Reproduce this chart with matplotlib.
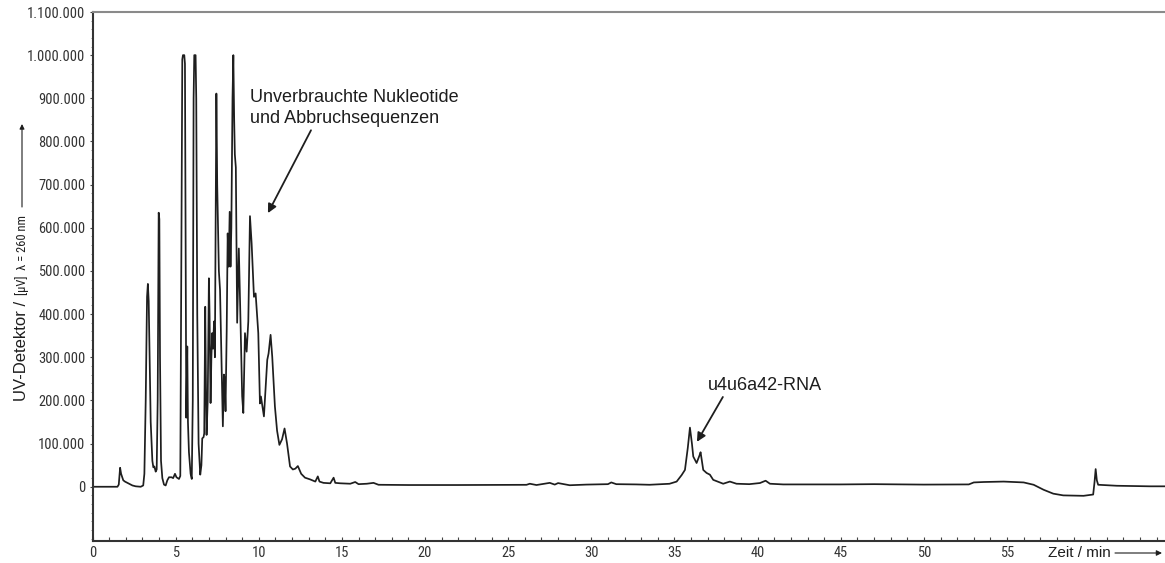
import matplotlib
matplotlib.use("Agg")
import matplotlib.pyplot as plt
from matplotlib import font_manager
from matplotlib.font_manager import FontProperties
from matplotlib.textpath import TextPath
from matplotlib.ticker import MultipleLocator, FixedLocator, FuncFormatter
import matplotlib.patches as mpatches

# ---- data (retention time in min, detector signal in µV) ----
time_min = [0.0, 1.5, 1.58, 1.66, 1.72, 1.85, 1.95, 2.1, 2.4, 2.6, 2.9, 3.05, 3.12, 3.2, 3.28, 3.33,
            3.38, 3.5, 3.6, 3.66, 3.72, 3.8, 3.86, 3.92, 3.98, 4.02, 4.06, 4.12, 4.2, 4.3, 4.4, 4.5,
            4.6, 4.75, 4.85, 4.96, 5.05, 5.2, 5.28, 5.35, 5.4, 5.44, 5.52, 5.56, 5.6, 5.64, 5.7,
            5.74, 5.8, 5.9, 5.97, 6.03, 6.08, 6.12, 6.2, 6.24, 6.3, 6.38, 6.48, 6.55, 6.6, 6.68,
            6.72, 6.78, 6.82, 6.86, 6.93, 7.0, 7.04, 7.1, 7.15, 7.2, 7.25, 7.31, 7.36, 7.45, 7.5,
            7.6, 7.67, 7.77, 7.84, 7.9, 7.95, 8.0, 8.07, 8.13, 8.19, 8.25, 8.3, 8.35, 8.42, 8.47,
            8.52, 8.56, 8.62, 8.7, 8.8, 8.88, 9.0, 9.07, 9.17, 9.27, 9.37, 9.47, 9.57, 9.71, 9.81,
            9.97, 10.07, 10.13, 10.31, 10.51, 10.59, 10.71, 10.81, 10.97, 11.1, 11.24, 11.4, 11.55,
            11.7, 11.88, 12.05, 12.2, 12.35, 12.55, 12.78, 13.09, 13.4, 13.55, 13.65, 13.89, 14.3,
            14.5, 14.6, 14.9, 15.5, 15.8, 16.0, 16.5, 16.9, 17.2, 19.0, 22.0, 26.1, 26.3, 26.7,
            27.5, 27.8, 28.0, 28.7, 29.7, 31.0, 31.2, 31.5, 32.7, 33.5, 34.7, 35.13, 35.43, 35.63,
            35.8, 35.93, 36.05, 36.13, 36.33, 36.5, 36.57, 36.73, 36.93, 37.13, 37.33, 37.93,
            38.33, 38.73, 39.5, 40.14, 40.48, 40.74, 41.54, 45.0, 47.0, 50.0, 52.7, 53.0, 53.6,
            54.8, 56.0, 56.6, 57.2, 57.78, 58.38, 59.6, 60.18, 60.26, 60.33, 60.4, 60.48, 61.6,
            63.6, 64.5]
signal_uv = [0, 0, 5000, 44000, 30000, 15000, 12000, 9000, 3000, 1000, 0, 3000, 30000, 200000,
             440000, 470000, 430000, 150000, 60000, 45000, 47000, 35000, 40000, 200000, 635000,
             620000, 300000, 60000, 20000, 5000, 3000, 15000, 22000, 22000, 20000, 30000, 22000,
             18000, 25000, 600000, 990000, 1000000, 1000000, 980000, 600000, 160000, 325000,
             150000, 80000, 30000, 18000, 200000, 900000, 1000000, 1000000, 900000, 400000,
             100000, 28000, 50000, 112000, 115000, 124000, 417000, 250000, 120000, 200000,
             483000, 400000, 194000, 300000, 356000, 320000, 383000, 300000, 911000, 700000,
             500000, 456000, 263000, 140000, 260000, 250000, 175000, 360000, 587000, 510000,
             637000, 510000, 600000, 900000, 1000000, 850000, 770000, 740000, 380000, 552000,
             420000, 210000, 171000, 356000, 313000, 383000, 627000, 564000, 440000, 448000,
             356000, 193000, 209000, 163000, 294000, 309000, 352000, 301000, 186000, 130000,
             97000, 110000, 135000, 100000, 47000, 40000, 42000, 48000, 30000, 21000, 17000,
             12000, 24000, 12000, 9000, 8000, 21000, 9000, 8000, 7000, 11000, 6000, 7000, 9000,
             4600, 4000, 4000, 4500, 7000, 4000, 9000, 5000, 8500, 3500, 5000, 6000, 10000, 6000,
             5400, 4600, 6900, 12000, 27000, 39000, 90000, 137000, 100000, 70000, 55000, 72000,
             80000, 39000, 32000, 28000, 16000, 7000, 12000, 7000, 6000, 8600, 14000, 7000, 5400,
             5400, 6000, 5000, 5400, 10000, 11000, 12000, 10000, 4600, -7000, -16000, -20000,
             -21000, -18000, 10000, 41000, 15000, 4600, 2300, 1000, 1000]

x_tick_values = [0, 5, 10, 15, 20, 25, 30, 35, 40, 45, 50, 55]
y_tick_values = [0, 100000, 200000, 300000, 400000, 500000, 600000, 700000, 800000, 900000,
                 1000000, 1100000]

label_nucleotides = ["Unverbrauchte Nukleotide", "und Abbruchsequenzen"]
label_rna = "u4u6a42-RNA"
label_time = "Zeit / min"
label_y_main = "UV-Detektor / "
label_y_small = "[µV]  λ = 260 nm"

# ---- fonts: look for a narrow sans face, else regular Liberation Sans ----
def find_narrow():
    prefs = ["LiberationSansNarrow-Regular", "RobotoCondensed-Regular", "OpenSans_Condensed-Regular",
             "OpenSansCondensed", "NotoSans-Condensed.", "NotoSans-CondensedRegular",
             "DejaVuSansCondensed."]
    files = [f.fname for f in font_manager.fontManager.ttflist]
    for p in prefs:
        for fn in files:
            if p.lower() in fn.lower().replace(" ", ""):
                return FontProperties(fname=fn)
    return FontProperties(family="Liberation Sans")

NARROW_FP = find_narrow()

def size_for_width(fp, text, width_px, dpi=100):
    tp = TextPath((0, 0), text, size=10, prop=fp)
    w = tp.get_extents().width * dpi / 72.0
    return 10.0 * width_px / w

TICK_SIZE = min(11.5, size_for_width(NARROW_FP, "1.000.000", 56))
REG = ["Liberation Sans", "DejaVu Sans"]
INK = "#1e1e1e"

# ---- figure ----
W, H = 1165, 563
fig = plt.figure(figsize=(W / 100, H / 100), dpi=100)
ax_left, ax_right, ax_top, ax_bottom = 92.5, 1165, 12, 540.7
ax = fig.add_axes([ax_left / W, (H - ax_bottom) / H, (ax_right - ax_left) / W,
                   (ax_bottom - ax_top) / H])

ax.plot(time_min, signal_uv, color=INK, lw=1.25, solid_joinstyle="round")

ax.set_xlim(0, 64.5)
ax.set_ylim(-125000, 1100000)

ax.xaxis.set_major_locator(FixedLocator(x_tick_values))
ax.xaxis.set_minor_locator(MultipleLocator(1))
ax.yaxis.set_major_locator(FixedLocator(y_tick_values))
ax.yaxis.set_minor_locator(MultipleLocator(20000))

def de_fmt(v, pos=None):
    return f"{int(round(v)):,}".replace(",", ".")

ax.yaxis.set_major_formatter(FuncFormatter(de_fmt))
ax.xaxis.set_major_formatter(FuncFormatter(lambda v, p=None: f"{int(round(v))}"))

ax.tick_params(axis="x", which="both", direction="in", length=3, width=0.8, color="#444444",
               pad=4)
ax.tick_params(axis="y", which="major", direction="out", length=2, width=0.8, color="#444444",
               pad=3)
ax.tick_params(axis="y", which="minor", direction="out", length=1.5, width=0.6, color="#777777")
for lab in ax.get_xticklabels() + ax.get_yticklabels():
    lab.set_fontproperties(NARROW_FP)
    lab.set_fontsize(TICK_SIZE)
    lab.set_color("#333333")

for s in ["left", "bottom"]:
    ax.spines[s].set_color("#333333")
    ax.spines[s].set_linewidth(1.5)
ax.spines["top"].set_color("#8a8a8a")
ax.spines["top"].set_linewidth(1.5)
ax.spines["right"].set_visible(False)

# ---- annotations ----
arrow_kw = dict(arrowstyle="-|>", color=INK, lw=1.3, mutation_scale=13, shrinkA=0, shrinkB=0)

ax.text(9.5, 891000, label_nucleotides[0], fontsize=13, family=REG, color=INK, va="baseline",
        ha="left")
ax.text(9.5, 842000, label_nucleotides[1], fontsize=13, family=REG, color=INK, va="baseline",
        ha="left")
ax.annotate("", xy=(10.55, 634000), xytext=(13.14, 826000), arrowprops=arrow_kw)

ax.text(37.0, 225000, label_rna, fontsize=13, family=REG, color=INK, va="baseline", ha="left")
ax.annotate("", xy=(36.35, 104000), xytext=(37.91, 208000), arrowprops=arrow_kw)

# x-axis label with arrow
fig.text(1048 / W, (H - 553) / H, label_time, fontsize=11, family=REG, color=INK,
         ha="left", va="center")
fig.patches.append(mpatches.FancyArrowPatch(
    (1115 / W, (H - 553) / H), (1162 / W, (H - 553) / H), transform=fig.transFigure,
    arrowstyle="-|>", color=INK, lw=0.8, mutation_scale=8, shrinkA=0, shrinkB=0))

# y-axis label (two sizes) with arrow
t_main = fig.text(22 / W, (H - 401) / H, label_y_main, fontsize=12, family=REG, color=INK,
                  rotation=90, ha="center", va="bottom")
fig.canvas.draw()
bb = t_main.get_window_extent(renderer=fig.canvas.get_renderer())
small_size = size_for_width(NARROW_FP, label_y_small, 78)
small_size = min(small_size, 10)
fig.text(22 / W, (bb.y1 + 1) / H, label_y_small, fontproperties=NARROW_FP, fontsize=small_size,
         color=INK, rotation=90, ha="center", va="bottom")
fig.patches.append(mpatches.FancyArrowPatch(
    (22 / W, (H - 207) / H), (22 / W, (H - 124) / H), transform=fig.transFigure,
    arrowstyle="-|>", color=INK, lw=0.8, mutation_scale=7, shrinkA=0, shrinkB=0))

fig.savefig("out.png", dpi=100)
